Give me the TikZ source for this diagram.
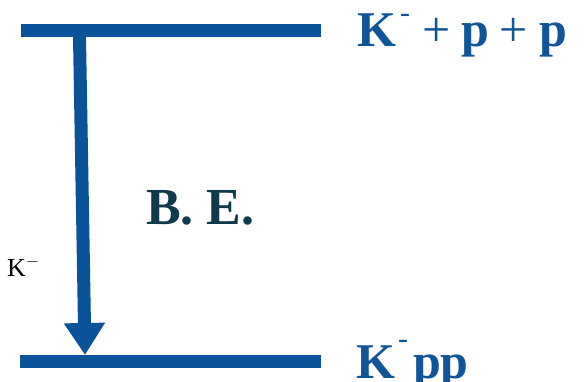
\documentclass[tikz,border=0pt]{standalone}
\usepackage{fontspec}
\setmainfont{Liberation Serif}
\usetikzlibrary{arrows.meta}
\definecolor{barblue}{HTML}{0B5398}
\definecolor{txtblue}{HTML}{0F5598}
\definecolor{bedark}{HTML}{0E3A4C}
\newcommand{\supminus}[1]{\raisebox{#1}{\fontsize{30}{30}\selectfont\mdseries -}}
\newcommand{\thinplus}{{\mdseries +}}
\tikzset{
  levelbar/.style={draw=barblue, line width=13pt},
  bearrow/.style={draw=barblue, line width=13pt, -{Triangle[width=39pt,length=32pt]}},
  bigtxt/.style={text=txtblue, font=\fontsize{50}{60}\selectfont\bfseries, inner sep=0pt, anchor=base west},
}
\begin{document}
\begin{tikzpicture}[x=1pt,y=-1pt]
\useasboundingbox (0,0) rectangle (586,382);
\fill[white] (0,0) rectangle (586,382);
\coordinate (t1) at (21,30.5);
\coordinate (t2) at (321,30.5);
\coordinate (b1) at (20,361);
\coordinate (b2) at (321,361);
\coordinate (as) at (79.5,37);
\coordinate (ae) at (85,355);
\draw[levelbar] (t1) -- (t2);
\draw[levelbar] (b1) -- (b2);
\draw[bearrow] (as) -- (ae);
\node[bigtxt] (top) at (357,47) {K\hspace{4pt}\supminus{24pt}\hspace{12pt}\thinplus\hspace{11pt}p\hspace{10pt}\thinplus\hspace{12pt}p};
\node[bigtxt] (bot) at (356,378) {K\hspace{3pt}\supminus{30pt}\hspace{5pt}pp};
\node[inner sep=0pt, anchor=base west, text=bedark, font=\fontsize{52}{60}\selectfont\bfseries] (be) at (146,224) {B.\hspace{13pt}E.};
\node[inner sep=0pt, anchor=base west, font=\fontsize{26}{30}\selectfont] (k) at (7,276) {K$^{-}$};
\end{tikzpicture}
\end{document}
